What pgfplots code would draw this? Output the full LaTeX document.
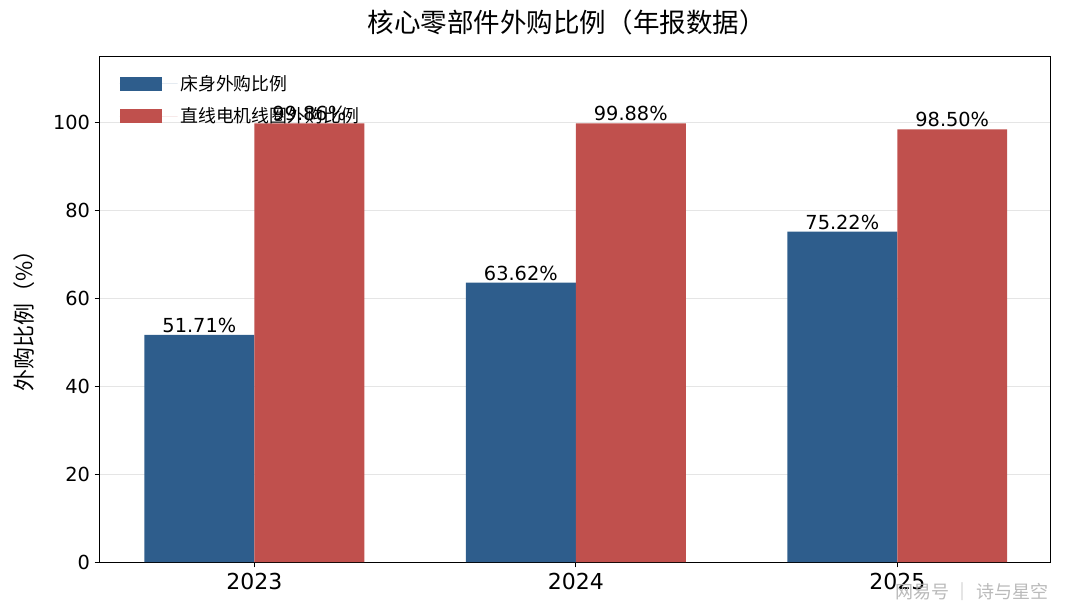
\documentclass[border=0pt]{standalone}
\usepackage{pgfplots}
\pgfplotsset{compat=1.18}
\usepackage{fontspec}
\setmainfont{DejaVu Sans}
\newfontfamily\cjk{Noto Sans CJK SC}
\definecolor{cblue}{RGB}{46,93,140}
\definecolor{cred}{RGB}{192,80,77}
\begin{document}
\begin{tikzpicture}
\useasboundingbox (-75pt,-39.75pt) rectangle (723.75pt,421.5pt);
\begin{axis}[
  at={(0,0)}, anchor=south west,
  scale only axis, width=712.5pt, height=378.75pt,
  ybar=0pt, bar width=0.342,
  xmin=-0.48, xmax=2.475, ymin=0, ymax=115,
  xtick={0,1,2}, xticklabels={2023,2024,2025},
  ytick={0,20,40,60,80,100},
  tick align=outside, tick pos=left,
  major tick length=4pt,
  ymajorgrids, grid style={draw=black!10, line width=0.6pt},
  axis line style={line width=0.75pt},
  every tick/.style={black, line width=0.75pt},
  /pgf/number format/assume math mode=true,
  xticklabel style={font=\fontsize{16.5}{18}\selectfont, yshift=-1pt},
  yticklabel style={font=\fontsize{14.5}{16}\selectfont},
  nodes near coords={\pgfmathprintnumber[fixed,fixed zerofill,precision=2]{\pgfplotspointmeta}\%},
  every node near coord/.append style={font=\fontsize{14.5}{16}\selectfont, black, inner sep=1.5pt},
  legend style={at={(0.0162,0.975)}, anchor=north west, draw=none, fill=none,
    font=\cjk\fontsize{13.4}{15}\selectfont, row sep=7.5pt},
  legend image code/.code={\fill[#1,draw=none] (0pt,-5.25pt) rectangle (31.5pt,5.25pt);
    \path (0pt,0pt) -- (43.5pt,0pt);},
  legend cell align=left,
]
\addplot[fill=cblue, draw=none] coordinates {(0,51.71) (1,63.62) (2,75.22)};
\addplot[fill=cred, draw=none] coordinates {(0,99.86) (1,99.88) (2,98.50)};
\legend{床身外购比例,直线电机线圈外购比例}
\end{axis}
\node at (350pt,405pt) {\cjk\fontsize{19.9}{22}\selectfont 核心零部件外购比例（年报数据）};
\node[rotate=90] at (-57pt,185pt) {\cjk\fontsize{16.5}{18}\selectfont 外购比例（\%）};
\node[text=black!30, opacity=0.9] at (654pt,-22pt) {\cjk\fontsize{13.5}{15}\selectfont 网易号 ｜ 诗与星空};
\end{tikzpicture}
\end{document}
